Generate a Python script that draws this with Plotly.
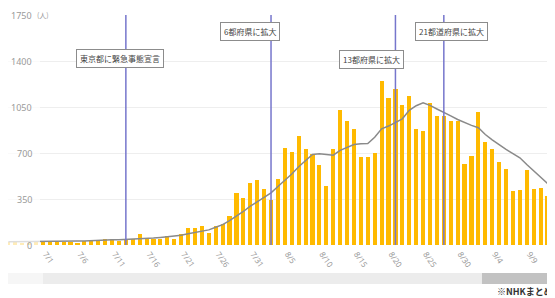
import pandas as pd
import plotly.graph_objects as go

# ---- data ----
start_date = "2021-06-25"
daily_cases = [
    20, 25, 15, 18, 25, 29,                      # 6/25 - 6/30
    24, 22, 22, 26, 15, 27, 34, 34, 47, 42,      # 7/1 - 7/10
    34, 42, 42, 87, 49, 49, 49, 67, 42, 80,      # 7/11 - 7/20
    128, 128, 145, 93, 148, 162, 224, 392, 354, 468,  # 7/21 - 7/30
    492,                                          # 7/31
    425, 346, 500, 740, 708, 833, 732, 695, 610, 448,  # 8/1 - 8/10
    727, 1031, 942, 879, 671, 671, 702, 1247, 1120, 1186,  # 8/11 - 8/20
    1062, 1133, 884, 866, 1082, 978, 982, 942, 947, 618,  # 8/21 - 8/30
    676,                                          # 8/31
    1011, 782, 727, 630, 580, 410, 417, 567, 428, 430,  # 9/1 - 9/10
    371, 288,                                     # 9/11 - 9/12
]
avg_7day = [
    25, 25, 25, 25, 26, 26,
    27, 27, 28, 29, 30, 31, 34, 35, 37, 39,
    40, 42, 45, 48, 50, 53, 58, 63, 68, 75,
    85, 95, 103, 115, 135, 155, 185, 219, 255, 295,
    330,
    362, 397, 445, 490, 540, 595, 640, 689, 694, 690,
    683, 720, 745, 765, 770, 772, 820, 884, 905, 930,
    960, 1025, 1060, 1082, 1062, 1035, 1011, 983, 955, 930,
    910,
    892, 841, 800, 760, 727, 695, 664, 612, 562, 515,
    468, 422,
]
y_ticks = [0, 350, 700, 1050, 1400, 1750]
x_tick_labels = ["6/26", "7/1", "7/6", "7/11", "7/16", "7/21", "7/26", "7/31",
                 "8/5", "8/10", "8/15", "8/20", "8/25", "8/30", "9/4", "9/9"]
event_dates = ["2021-07-12", "2021-08-02", "2021-08-20", "2021-08-27"]
event_labels = ["東京都に緊急事態宣言", "6都府県に拡大", "13都府県に拡大", "21都道府県に拡大"]

# ---- styles / positions ----
callout_y = [1419, 1628, 1411, 1628]
callout_xshift = [-6, -21, -24, 8]
BAR = "#FFBA00"
EVT = "#7676CC"
FONT = "Noto Sans CJK JP"

dates = pd.date_range(start_date, periods=len(daily_cases), freq="D")
tick_vals = [pd.Timestamp(f"2021-{t.split('/')[0]}-{t.split('/')[1]}") for t in x_tick_labels]

fig = go.Figure()
fig.add_trace(go.Bar(x=dates, y=daily_cases, marker_color=BAR,
                     marker_line_width=0, width=0.6 * 86400000, showlegend=False))
fig.add_trace(go.Scatter(x=dates, y=avg_7day, mode="lines",
                         line=dict(color="#8a8a8a", width=1.5), showlegend=False))

shapes = []
for d in event_dates:
    shapes.append(dict(type="line", xref="x", yref="y", x0=d, x1=d, y0=0, y1=1750,
                       line=dict(color=EVT, width=1.5), layer="above"))
# faded left region (fixed y-axis panel)
shapes.append(dict(type="rect", xref="paper", yref="paper", x0=-0.02, x1=0.0585,
                   y0=-0.1, y1=1.07, fillcolor="white", opacity=0.72,
                   line=dict(width=0), layer="above"))
# scrollbar
shapes.append(dict(type="rect", xref="paper", yref="paper", x0=-0.002, x1=1.0,
                   y0=-0.1696, y1=-0.1217, fillcolor="#ececec", line=dict(width=0)))
shapes.append(dict(type="rect", xref="paper", yref="paper", x0=-0.002, x1=0.064,
                   y0=-0.1696, y1=-0.1217, fillcolor="#f6f6f6", line=dict(width=0)))
shapes.append(dict(type="rect", xref="paper", yref="paper", x0=0.8665, x1=1.0,
                   y0=-0.1696, y1=-0.1217, fillcolor="#c2c2c2", line=dict(width=0)))

annotations = []
for d, lab, yy, xs in zip(event_dates, event_labels, callout_y, callout_xshift):
    annotations.append(dict(x=d, y=yy, xref="x", yref="y", text=lab, showarrow=False,
                            xshift=xs, bgcolor="white", bordercolor="#8c8c8c",
                            borderwidth=1, borderpad=3,
                            font=dict(family=FONT, size=8, color="#444")))
for v in y_ticks:
    annotations.append(dict(x=0.0475, y=v, xref="paper", yref="y", text=str(v),
                            showarrow=False, xanchor="right", yanchor="middle",
                            font=dict(family="Noto Sans", size=9, color="#9a9a9a")))
annotations.append(dict(x=0.05, y=1.0304, xref="paper", yref="paper", text="(人)",
                        showarrow=False, xanchor="left", yanchor="top",
                        font=dict(family=FONT, size=7, color="#9a9a9a")))
annotations.append(dict(x=1.0, y=-0.202, xref="paper", yref="paper", text="<b>※NHKまとめ</b>",
                        showarrow=False, xanchor="right", yanchor="middle",
                        font=dict(family=FONT, size=9, color="#333")))

# page body has an 8px margin, so the figure is 8px smaller than the window
fig.update_layout(
    width=547, height=290,
    margin=dict(l=0, r=0, t=7, b=53, autoexpand=False),
    paper_bgcolor="white", plot_bgcolor="white",
    bargap=0, showlegend=False,
    shapes=shapes, annotations=annotations,
    xaxis=dict(type="date", range=["2021-06-24 22:48", "2021-09-12 02:00"],
               tickvals=tick_vals, ticktext=x_tick_labels, tickangle=55,
               tickfont=dict(family="Noto Sans", size=8, color="#9a9a9a"),
               showgrid=False, zeroline=False, showline=False, ticks="",
               ticklabelshift=-4, ticklabelstandoff=2, automargin=False),
    yaxis=dict(range=[0, 1750], tickvals=y_ticks, showticklabels=False,
               showgrid=True, gridcolor="#eeeeee", gridwidth=1, zeroline=False,
               showline=False, ticks="", automargin=False),
)

fig.write_html("out.html")
